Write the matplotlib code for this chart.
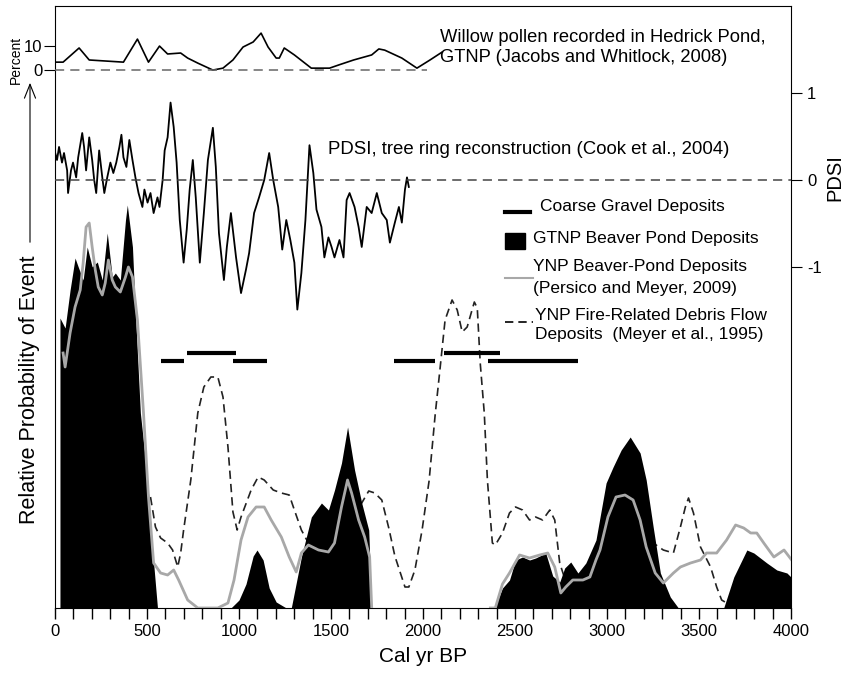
import numpy as np
import matplotlib
import matplotlib.pyplot as plt
from matplotlib.lines import Line2D
from matplotlib.patches import Rectangle, FancyArrowPatch

plt.rcParams['font.family'] = ['Liberation Sans', 'DejaVu Sans']

# GTNP beaver pond deposits (black fill), relative probability
gtnp_yr = [0, 27, 27, 55, 82, 109, 126, 153, 175, 202, 230, 257, 284, 311, 328, 355, 383, 393,
           421, 437, 464, 503, 536, 557, 956, 1000, 1038, 1077, 1098, 1131, 1164, 1202, 1257,
           1284, 1339, 1393, 1448, 1486, 1519, 1557, 1590, 1628, 1667, 1705, 1721, 2366, 2393,
           2432, 2470, 2503, 2541, 2579, 2612, 2667, 2705, 2743, 2770, 2803, 2842, 2885, 2940,
           2995, 3033, 3077, 3126, 3180, 3213, 3251, 3290, 3344, 3388, 3634, 3689, 3760, 3798,
           3869, 3923, 3978, 4016]
gtnp_p = [0, 0, 0.725, 0.70, 0.795, 0.875, 0.853, 0.82, 0.9025, 0.853, 0.865, 0.82, 0.9375,
          0.8275, 0.8375, 0.82, 0.97, 1.0075, 0.9025, 0.7375, 0.4875, 0.32, 0.1125, 0.0, 0.0,
          0.02, 0.06, 0.13, 0.145, 0.12, 0.05, 0.015, 0.0, 0.0, 0.1275, 0.2275, 0.2625, 0.245,
          0.295, 0.3625, 0.4525, 0.345, 0.2625, 0.195, 0.0, 0.0, 0.005, 0.05, 0.07, 0.12,
          0.1275, 0.12, 0.125, 0.1375, 0.08, 0.065, 0.10, 0.115, 0.0875, 0.1125, 0.17, 0.3125,
          0.3525, 0.395, 0.4275, 0.3875, 0.32, 0.2025, 0.0875, 0.0275, 0.0, 0.0, 0.0775, 0.145,
          0.1375, 0.1125, 0.095, 0.0875, 0.07]

# YNP beaver-pond deposits (grey line); nan = no record
ynp_yr = [44, 55, 82, 109, 137, 153, 169, 186, 202, 219, 235, 257, 273, 290, 311, 328, 355, 383,
          399, 421, 448, 481, 508, 536, 574, 612, 645, 672, 721, 776, 885, 940, 973, 1011, 1049,
          1093, 1137, 1175, 1230, 1273, 1311, 1339, 1377, 1432, 1486, 1519, 1557, 1590, 1612,
          1650, 1683, 1710, 1721, 2000, 2366, 2393, 2432, 2470, 2525, 2579, 2634, 2678, 2716,
          2749, 2776, 2814, 2869, 2907, 2940, 2962, 3005, 3049, 3098, 3142, 3180, 3213, 3262,
          3306, 3361, 3399, 3454, 3508, 3541, 3596, 3650, 3699, 3743, 3781, 3814, 3852, 3907,
          3962, 4016]
ynp_p = [0.6375, 0.6025, 0.6875, 0.7525, 0.795, 0.8625, 0.9525, 0.9625, 0.9025, 0.845, 0.8025,
         0.7825, 0.8125, 0.87, 0.82, 0.8025, 0.79, 0.8275, 0.8525, 0.8275, 0.72, 0.4875, 0.2775,
         0.1125, 0.0875, 0.0825, 0.095, 0.07, 0.02, 0.0, 0.0, 0.0125, 0.07, 0.17, 0.2275,
         0.2525, 0.2525, 0.22, 0.1775, 0.1275, 0.09, 0.1375, 0.1575, 0.145, 0.14, 0.1625,
         0.2525, 0.32, 0.2875, 0.22, 0.1775, 0.1275, 0.0025, np.nan, 0.0, 0.0, 0.06, 0.0875,
         0.1325, 0.125, 0.1325, 0.1375, 0.1025, 0.0375, 0.0525, 0.07, 0.07, 0.0775, 0.12,
         0.145, 0.2275, 0.2775, 0.2825, 0.27, 0.22, 0.1525, 0.0875, 0.0625, 0.0875, 0.1025,
         0.1125, 0.12, 0.1375, 0.1375, 0.17, 0.2075, 0.2, 0.1875, 0.1875, 0.1625, 0.1275,
         0.145, 0.1125]

# YNP fire-related debris flow deposits (dashed)
fire_yr = [519, 546, 574, 612, 639, 667, 683, 699, 738, 776, 809, 847, 885, 913, 940, 967, 990,
           1011, 1066, 1104, 1137, 1186, 1230, 1273, 1301, 1339, 1377, 1448, 1519, 1574, 1612,
           1667, 1705, 1738, 1776, 1814, 1847, 1902, 1923, 1956, 1995, 2033, 2066, 2093, 2120,
           2158, 2186, 2213, 2240, 2279, 2295, 2311, 2333, 2350, 2377, 2393, 2432, 2470, 2503,
           2541, 2579, 2612, 2650, 2689, 2716, 2743, 2787, 2869, 2978, 3087, 3197, 3251, 3306,
           3361, 3399, 3426, 3443, 3470, 3508, 3563, 3596, 3623, 3650, 3689, 4016]
fire_p = [0.2775, 0.2025, 0.175, 0.1625, 0.145, 0.1025, 0.1375, 0.195, 0.32, 0.4875, 0.5525,
          0.5775, 0.5775, 0.5275, 0.4025, 0.24, 0.195, 0.2275, 0.295, 0.3275, 0.32, 0.295,
          0.2875, 0.2825, 0.245, 0.195, 0.1625, 0.1525, 0.1625, 0.1875, 0.2275, 0.2625, 0.2925,
          0.2875, 0.27, 0.2, 0.13, 0.0525, 0.0525, 0.095, 0.195, 0.3175, 0.4825, 0.6, 0.72,
          0.77, 0.745, 0.69, 0.7025, 0.765, 0.75, 0.6125, 0.4875, 0.32, 0.1625, 0.1575, 0.1875,
          0.2375, 0.2525, 0.245, 0.22, 0.2275, 0.22, 0.245, 0.22, 0.1125, 0.05, 0.05, 0.1, 0.15,
          0.16, 0.1625, 0.145, 0.1375, 0.2025, 0.2525, 0.275, 0.2375, 0.1525, 0.1025, 0.0525,
          0.02, 0.0125, 0.0, 0.0]

# coarse gravel deposits: start, end, level
gravel_start = [575, 720, 965, 1840, 2115, 2355]
gravel_end = [700, 985, 1150, 2065, 2420, 2840]
gravel_level = [0.6175, 0.6375, 0.6175, 0.6175, 0.6375, 0.6175]

# PDSI tree ring reconstruction
pdsi_yr = [0, 11, 22, 38, 49, 66, 71, 87, 98, 115, 126, 148, 158, 169, 186, 202, 213, 224, 240,
           257, 268, 284, 301, 317, 333, 350, 361, 372, 388, 404, 421, 437, 454, 475, 486, 503,
           519, 536, 557, 568, 585, 596, 612, 628, 645, 661, 678, 699, 716, 732, 749, 765, 787,
           809, 831, 858, 874, 891, 918, 934, 956, 984, 1011, 1038, 1055, 1082, 1109, 1137,
           1164, 1186, 1213, 1235, 1257, 1279, 1301, 1317, 1339, 1361, 1383, 1404, 1421, 1448,
           1464, 1486, 1503, 1519, 1546, 1568, 1585, 1601, 1628, 1650, 1667, 1694, 1721, 1749,
           1776, 1803, 1820, 1847, 1869, 1885, 1902, 1913, 1923]
pdsi = [0.32, 0.23, 0.38, 0.20, 0.31, 0.11, -0.15, 0.11, 0.20, 0.03, 0.26, 0.54, 0.38, 0.11,
        0.49, 0.23, 0.0, -0.15, 0.34, 0.03, -0.15, 0.03, 0.20, 0.08, 0.20, 0.38, 0.52, 0.26,
        0.15, 0.46, 0.23, 0.03, -0.15, -0.31, -0.11, -0.26, -0.15, -0.38, -0.20, -0.31, 0.0,
        0.34, 0.49, 0.89, 0.61, 0.20, -0.46, -0.95, -0.57, -0.11, 0.23, -0.20, -0.95, -0.38,
        0.23, 0.60, 0.15, -0.61, -1.15, -0.77, -0.38, -0.89, -1.30, -1.03, -0.84, -0.38,
        -0.20, 0.0, 0.31, 0.0, -0.31, -0.80, -0.46, -0.69, -0.95, -1.49, -1.07, -0.46, 0.40,
        0.08, -0.34, -0.54, -0.89, -0.66, -0.77, -0.89, -0.69, -0.89, -0.23, -0.15, -0.31,
        -0.54, -0.77, -0.31, -0.38, -0.15, -0.38, -0.46, -0.72, -0.49, -0.31, -0.49, -0.11,
        0.03, -0.08]

# willow pollen, Hedrick Pond (percent)
willow_yr = [0, 44, 131, 186, 372, 448, 508, 568, 612, 683, 721, 776, 858, 913, 967, 1022, 1077,
             1120, 1158, 1202, 1219, 1246, 1301, 1393, 1492, 1541, 1623, 1721, 1760, 1792, 1885,
             1967, 2038, 2104]
willow = [3.3, 3.3, 9.2, 4.2, 3.3, 12.9, 3.3, 10.0, 6.7, 7.1, 5.0, 2.9, 0.0, 0.8, 4.2, 9.6, 11.7,
          15.4, 9.6, 5.0, 5.0, 9.2, 6.3, 0.8, 0.8, 2.1, 4.2, 6.3, 8.8, 8.3, 5.0, 0.8, 4.2, 7.5]

W, H = 847, 673


def fx(px):
    return px / W


def fy(py):
    return 1 - py / H


def main():
    fig = plt.figure(figsize=(W / 100, H / 100), dpi=100)
    ax = fig.add_axes([fx(55), fy(608), fx(791) - fx(55), fy(6) - fy(608)])
    ax.set_xlim(0, 4000)
    ax.set_ylim(0, 1.505)

    ax.plot(fire_yr, fire_p, color='#222222', lw=1.2, dashes=(5, 3), zorder=2)
    ax.fill_between(gtnp_yr, 0, gtnp_p, color='black', lw=0, zorder=3)
    ax.plot(ynp_yr, ynp_p, color='#a8a8a8', lw=2.0, zorder=4)
    ax.hlines(gravel_level, gravel_start, gravel_end, color='black', lw=3, zorder=5)

    ax.set_yticks([])
    ax.set_xticks(np.arange(0, 4001, 500))
    ax.set_xticks(np.arange(0, 4001, 100), minor=True)
    ax.tick_params(axis='x', which='both', direction='out', length=8, width=1, labelsize=12)
    ax.set_xlabel('Cal yr BP', fontsize=15, labelpad=6)

    # PDSI axis (right)
    axp = ax.twinx()
    axp.set_ylim(-4.92, 2.0)
    axp.plot(pdsi_yr, pdsi, color='black', lw=1.3)
    axp.axhline(0, color='#444444', lw=1.1, dashes=(6, 4))
    axp.set_yticks([-1, 0, 1])
    axp.set_yticklabels(['-1', '0', '1'])
    axp.tick_params(axis='y', direction='out', length=8, labelsize=12)
    for s in axp.spines.values():
        s.set_visible(False)

    # willow pollen axis (left, top)
    axw = ax.twinx()
    axw.set_ylim(-224.2, 26.7)
    axw.plot(willow_yr, willow, color='black', lw=1.2)
    axw.plot([0, 2020], [0, 0], color='#666666', lw=1.1, dashes=(6, 4))
    axw.yaxis.tick_left()
    axw.set_yticks([0, 10])
    axw.tick_params(axis='y', direction='out', length=8, labelsize=12, pad=1)
    for s in axw.spines.values():
        s.set_visible(False)

    # axis labels
    fig.text(fx(16), fy(60), 'Percent', rotation=90, fontsize=10, ha='center', va='center')
    fig.text(fx(835), fy(178), 'PDSI', rotation=90, fontsize=14.5, ha='center', va='center')
    fig.text(fx(30), fy(390), 'Relative Probability of Event', rotation=90, fontsize=15.5,
             ha='center', va='center')
    fig.add_artist(FancyArrowPatch(
        (fx(30), fy(245)), (fx(30), fy(80)), transform=fig.transFigure,
        arrowstyle='->,head_length=10,head_width=4', color='black', lw=0.8))

    fig.text(fx(440), fy(37), 'Willow pollen recorded in Hedrick Pond,', fontsize=13.2,
             va='center')
    fig.text(fx(440), fy(58), 'GTNP (Jacobs and Whitlock, 2008)', fontsize=13.2, va='center')
    fig.text(fx(328), fy(150), 'PDSI, tree ring reconstruction (Cook et al., 2004)',
             fontsize=13.4, va='center')

    # legend
    fs = 12.5
    fig.add_artist(Line2D([fx(505), fx(530)], [fy(212), fy(212)], color='black', lw=3))
    fig.text(fx(540), fy(207), 'Coarse Gravel Deposits', fontsize=fs, va='center')
    fig.add_artist(Rectangle((fx(505), fy(249)), fx(20), fy(233) - fy(249),
                             transform=fig.transFigure, color='black'))
    fig.text(fx(533), fy(238), 'GTNP Beaver Pond Deposits', fontsize=fs, va='center')
    fig.add_artist(Line2D([fx(505), fx(533)], [fy(278), fy(278)], color='#a8a8a8', lw=1.5))
    fig.text(fx(533), fy(267), 'YNP Beaver-Pond Deposits', fontsize=fs, va='center')
    fig.text(fx(533), fy(288), '(Persico and Meyer, 2009)', fontsize=fs, va='center')
    fig.add_artist(Line2D([fx(505), fx(533)], [fy(322), fy(322)], color='black', lw=1.2,
                          dashes=(5, 3)))
    fig.text(fx(535), fy(315), 'YNP Fire-Related Debris Flow', fontsize=fs, va='center')
    fig.text(fx(535), fy(335), 'Deposits  (Meyer et al., 1995)', fontsize=fs, va='center')

    fig.savefig('out.png', dpi=100)
    plt.close(fig)


if __name__ == '__main__':
    main()
